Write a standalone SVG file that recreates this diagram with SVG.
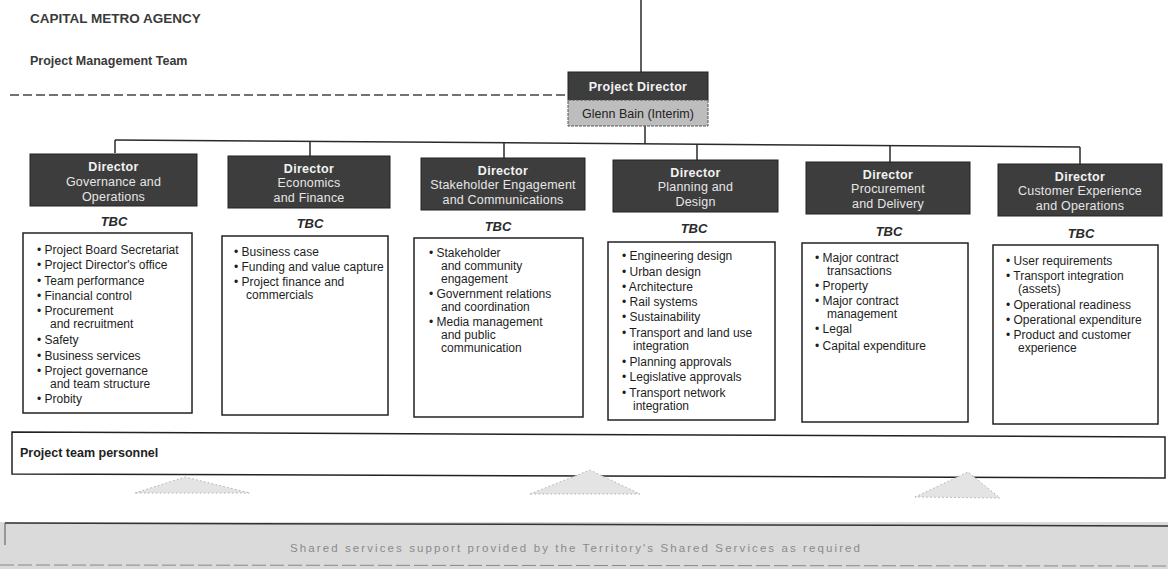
<svg xmlns="http://www.w3.org/2000/svg" width="1168" height="569" viewBox="0 0 1168 569">
<style>
  .hdr{font-family:"Liberation Sans",Arial,sans-serif;font-weight:bold;fill:#3a3a3a}
  .dbox{fill:#3d3d3d;stroke:#222;stroke-width:1}
  .dtitle{font-family:"Liberation Sans",Arial,sans-serif;font-size:12.5px;font-weight:bold;fill:#f2f2f2;text-anchor:middle;letter-spacing:0.3px}
  .dsub{font-family:"Liberation Sans",Arial,sans-serif;font-size:12.5px;fill:#e6e6e6;text-anchor:middle;letter-spacing:0.2px}
  .tbc{font-family:"Liberation Sans",Arial,sans-serif;font-size:13px;font-style:italic;font-weight:bold;fill:#2a2a2a;text-anchor:middle}
  .lbox{fill:#fff;stroke:#222;stroke-width:1.5}
  .item{font-family:"Liberation Sans",Arial,sans-serif;font-size:12px;fill:#1e1e1e}
  .conn{stroke:#2a2a2a;stroke-width:1.5;fill:none}
  .tri{fill:#e4e4e4;stroke:#b0b0b0;stroke-width:1;stroke-dasharray:1.5 2.5}
</style>

<!-- headings -->
<text class="hdr" x="30" y="23" font-size="13.5">CAPITAL METRO AGENCY</text>
<text class="hdr" x="30" y="65" font-size="12.5">Project Management Team</text>
<line x1="10" y1="95" x2="568" y2="95" stroke="#444" stroke-width="1.5" stroke-dasharray="9 4"/>

<!-- connectors -->
<g id="connectors">
  <line class="conn" x1="641" y1="0" x2="641" y2="72"/>
  <line class="conn" x1="645" y1="126" x2="645" y2="144"/>
  <line class="conn" x1="115" y1="140" x2="1080" y2="147"/>
  <line class="conn" x1="115" y1="140" x2="115" y2="153"/>
  <line class="conn" x1="310" y1="141.4" x2="310" y2="156"/>
  <line class="conn" x1="504" y1="142.8" x2="504" y2="158"/>
  <line class="conn" x1="697" y1="144.2" x2="697" y2="160"/>
  <line class="conn" x1="890" y1="145.6" x2="890" y2="162"/>
  <line class="conn" x1="1080" y1="147" x2="1080" y2="164"/>
</g>

<!-- project director -->
<g id="project-director">
  <rect class="dbox" x="568" y="72" width="140" height="28"/>
  <text class="dtitle" x="638" y="91">Project Director</text>
  <rect x="568" y="100" width="140" height="26" fill="#bdbdbd" stroke="#555" stroke-width="1" stroke-dasharray="3 1"/>
  <text x="638" y="118" font-family="Liberation Sans, Arial, sans-serif" font-size="12.5" fill="#222" text-anchor="middle">Glenn Bain (Interim)</text>
</g>

<!-- column 1 -->
<g id="dir-governance">
  <rect class="dbox" x="30" y="154" width="167" height="52"/>
  <text class="dtitle" x="113.5" y="171">Director</text>
  <text class="dsub" x="113.5" y="186">Governance and</text>
  <text class="dsub" x="113.5" y="201">Operations</text>
  <text class="tbc" x="114" y="226">TBC</text>
  <rect class="lbox" x="23" y="233" width="169" height="180"/>
  <text class="item" x="37" y="254">• Project Board Secretariat</text>
  <text class="item" x="37" y="269">• Project Director's office</text>
  <text class="item" x="37" y="285">• Team performance</text>
  <text class="item" x="37" y="300">• Financial control</text>
  <text class="item" x="37" y="315">• Procurement</text>
  <text class="item" x="50" y="328">and recruitment</text>
  <text class="item" x="37" y="344">• Safety</text>
  <text class="item" x="37" y="360">• Business services</text>
  <text class="item" x="37" y="375">• Project governance</text>
  <text class="item" x="50" y="388">and team structure</text>
  <text class="item" x="37" y="403">• Probity</text>
</g>

<!-- column 2 -->
<g id="dir-economics">
  <rect class="dbox" x="228" y="156" width="162" height="52"/>
  <text class="dtitle" x="309" y="173">Director</text>
  <text class="dsub" x="309" y="187">Economics</text>
  <text class="dsub" x="309" y="202">and Finance</text>
  <text class="tbc" x="310" y="228">TBC</text>
  <rect class="lbox" x="222" y="236" width="166" height="179"/>
  <text class="item" x="234" y="256">• Business case</text>
  <text class="item" x="234" y="271">• Funding and value capture</text>
  <text class="item" x="234" y="286">• Project finance and</text>
  <text class="item" x="246" y="299">commercials</text>
</g>

<!-- column 3 -->
<g id="dir-stakeholder">
  <rect class="dbox" x="421" y="158" width="164" height="52"/>
  <text class="dtitle" x="503" y="175">Director</text>
  <text class="dsub" x="503" y="189">Stakeholder Engagement</text>
  <text class="dsub" x="503" y="204">and Communications</text>
  <text class="tbc" x="498" y="231">TBC</text>
  <rect class="lbox" x="414" y="238" width="169" height="179"/>
  <text class="item" x="429" y="257">• Stakeholder</text>
  <text class="item" x="441" y="270">and community</text>
  <text class="item" x="441" y="283">engagement</text>
  <text class="item" x="429" y="298">• Government relations</text>
  <text class="item" x="441" y="311">and coordination</text>
  <text class="item" x="429" y="326">• Media management</text>
  <text class="item" x="441" y="339">and public</text>
  <text class="item" x="441" y="352">communication</text>
</g>

<!-- column 4 -->
<g id="dir-planning">
  <rect class="dbox" x="613" y="160" width="165" height="52"/>
  <text class="dtitle" x="695.5" y="177">Director</text>
  <text class="dsub" x="695.5" y="191">Planning and</text>
  <text class="dsub" x="695.5" y="206">Design</text>
  <text class="tbc" x="694" y="233">TBC</text>
  <rect class="lbox" x="608" y="242" width="167" height="178"/>
  <text class="item" x="622" y="260">• Engineering design</text>
  <text class="item" x="622" y="276">• Urban design</text>
  <text class="item" x="622" y="291">• Architecture</text>
  <text class="item" x="622" y="306">• Rail systems</text>
  <text class="item" x="622" y="321">• Sustainability</text>
  <text class="item" x="622" y="337">• Transport and land use</text>
  <text class="item" x="633" y="350">integration</text>
  <text class="item" x="622" y="366">• Planning approvals</text>
  <text class="item" x="622" y="381">• Legislative approvals</text>
  <text class="item" x="622" y="397">• Transport network</text>
  <text class="item" x="633" y="410">integration</text>
</g>

<!-- column 5 -->
<g id="dir-procurement">
  <rect class="dbox" x="806" y="162" width="164" height="52"/>
  <text class="dtitle" x="888" y="179">Director</text>
  <text class="dsub" x="888" y="193">Procurement</text>
  <text class="dsub" x="888" y="208">and Delivery</text>
  <text class="tbc" x="889" y="236">TBC</text>
  <rect class="lbox" x="802" y="243" width="166" height="179"/>
  <text class="item" x="815" y="262">• Major contract</text>
  <text class="item" x="827" y="275">transactions</text>
  <text class="item" x="815" y="290">• Property</text>
  <text class="item" x="815" y="305">• Major contract</text>
  <text class="item" x="827" y="318">management</text>
  <text class="item" x="815" y="333">• Legal</text>
  <text class="item" x="815" y="350">• Capital expenditure</text>
</g>

<!-- column 6 -->
<g id="dir-customer">
  <rect class="dbox" x="998" y="164" width="164" height="52"/>
  <text class="dtitle" x="1080" y="181">Director</text>
  <text class="dsub" x="1080" y="195">Customer Experience</text>
  <text class="dsub" x="1080" y="210">and Operations</text>
  <text class="tbc" x="1081" y="238">TBC</text>
  <rect class="lbox" x="993" y="245" width="165" height="179"/>
  <text class="item" x="1006" y="265">• User requirements</text>
  <text class="item" x="1006" y="280">• Transport integration</text>
  <text class="item" x="1018" y="293">(assets)</text>
  <text class="item" x="1006" y="309">• Operational readiness</text>
  <text class="item" x="1006" y="324">• Operational expenditure</text>
  <text class="item" x="1006" y="339">• Product and customer</text>
  <text class="item" x="1018" y="352">experience</text>
</g>

<!-- project team personnel -->
<g id="project-team">
  <polygon points="12,432 1165,437 1165,478 12,474" fill="#fff" stroke="#222" stroke-width="1.5"/>
  <text x="20" y="457" font-family="Liberation Sans, Arial, sans-serif" font-size="12.5" font-weight="bold" fill="#222">Project team personnel</text>
</g>

<!-- faint triangles -->
<g id="triangles">
  <polygon class="tri" points="135,493 185,477 250,493"/>
  <polygon class="tri" points="530,494 590,470 640,494"/>
  <polygon class="tri" points="915,497 968,472 1000,498"/>
</g>

<!-- shared services banner -->
<g id="shared-services">
  <rect x="0" y="522" width="1168" height="47" fill="#dadada"/>
  <line x1="5" y1="523" x2="1168" y2="526" stroke="#333" stroke-width="1.5"/>
  <line x1="5" y1="523" x2="5" y2="545" stroke="#555" stroke-width="1"/>
  <line x1="0" y1="565" x2="1168" y2="566" stroke="#888" stroke-width="1" stroke-dasharray="14 4"/>
  <text x="290" y="552" font-family="Liberation Sans, Arial, sans-serif" font-size="11.5" fill="#8a8a8a" textLength="570" lengthAdjust="spacing">Shared services support provided by the Territory's Shared Services as required</text>
</g>
</svg>
